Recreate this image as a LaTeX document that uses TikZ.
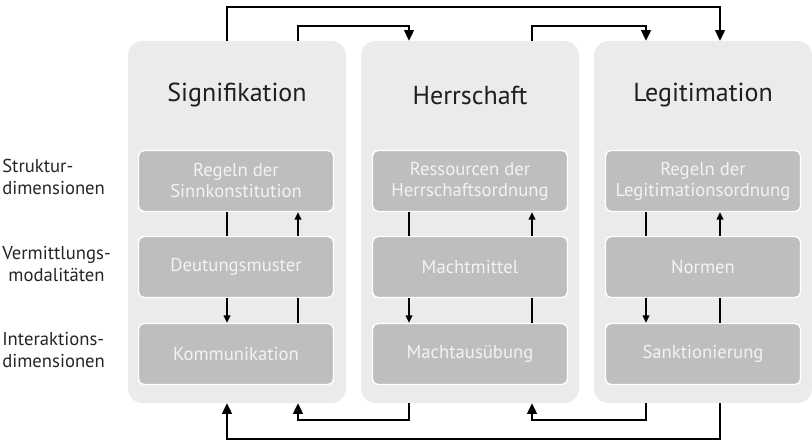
\documentclass[tikz,border=0pt]{standalone}
\usepackage{fontspec}
\setmainfont{PT Sans}
\usetikzlibrary{arrows.meta}

\definecolor{panelgray}{RGB}{235,235,235}
\definecolor{boxgray}{RGB}{190,190,190}
\definecolor{boxtext}{RGB}{243,243,243}

\tikzset{
	panel/.style={fill=panelgray, rounded corners=11pt, minimum width=163.5pt, minimum height=271.5pt, inner sep=0pt},
	levelbox/.style={fill=boxgray, draw=white, line width=1.1pt, rounded corners=4pt, minimum width=146.25pt, minimum height=45.75pt, inner sep=0pt, text=boxtext, align=center, font=\fontsize{14}{15.75}\selectfont},
	paneltitle/.style={inner sep=0pt, text=black!88, font=\fontsize{19.5}{22}\selectfont},
	dimlabel/.style={anchor=west, inner sep=0pt, align=left, text=black!85, font=\fontsize{14}{16.5}\selectfont},
	link/.style={line width=1pt},
	flow/.style={line width=1pt, -{Triangle[width=7.5pt,length=8pt]}},
	innerflow/.style={line width=1pt, -{Triangle[width=5pt,length=5.5pt]}}
}

\begin{document}
\begin{tikzpicture}[x=0.75pt,y=0.75pt,yscale=-1,xscale=1]
	\useasboundingbox (0,0) rectangle (812,442);
	
	%Shapes: Panels
	\node [panel] (sig) at (237,222) {};
	\node [panel] (her) at (470,222) {};
	\node [panel] (leg) at (703,222) {};
	
	%Text: Panel titles
	\node [paneltitle] (sigtitle) at (237,95) {Signifikation};
	\node [paneltitle] (hertitle) at (470,95) {Herrschaft};
	\node [paneltitle] (legtitle) at (703,95) {Legitimation};
	
	%Shapes: Level boxes
	\node [levelbox] (sinn) at (236,181) {Regeln der\\Sinnkonstitution};
	\node [levelbox] (deut) at (236,267) {Deutungsmuster};
	\node [levelbox] (komm) at (236,354) {Kommunikation};
	\node [levelbox] (ress) at (470,181) {Ressourcen der\\Herrschaftsordnung};
	\node [levelbox] (mitt) at (470,267) {Machtmittel};
	\node [levelbox] (ausu) at (470,354) {Machtausübung};
	\node [levelbox] (lord) at (703,181) {Regeln der\\Legitimationsordnung};
	\node [levelbox] (norm) at (703,267) {Normen};
	\node [levelbox] (sank) at (703,354) {Sanktionierung};
	
	%Text: Dimension labels
	\node [dimlabel] (struk) at (2,177) {Struktur-\\dimensionen};
	\node [dimlabel, align=center] (verm) at (2,264) {Vermittlungs-\\modalitäten};
	\node [dimlabel] (inter) at (2,350) {Interaktions-\\dimensionen};
	
	%Coordinates: lanes and rails
	\coordinate (p1a) at (227,0);
	\coordinate (p1b) at (298,0);
	\coordinate (p2a) at (409,0);
	\coordinate (p2b) at (532,0);
	\coordinate (p3a) at (646,0);
	\coordinate (p3b) at (720,0);
	\coordinate (topout) at (0,7);
	\coordinate (topin) at (0,26);
	\coordinate (botin) at (0,420);
	\coordinate (botout) at (0,439);
	
	%Straight Lines: inside Signifikation
	\draw [link] (sinn.south -| p1a) -- (deut.north -| p1a);
	\draw [innerflow] (deut.south -| p1a) -- (komm.north -| p1a);
	\draw [link] (komm.north -| p1b) -- (deut.south -| p1b);
	\draw [innerflow] (deut.north -| p1b) -- (sinn.south -| p1b);
	
	%Straight Lines: inside Herrschaft
	\draw [link] (ress.south -| p2a) -- (mitt.north -| p2a);
	\draw [innerflow] (mitt.south -| p2a) -- (ausu.north -| p2a);
	\draw [link] (ausu.north -| p2b) -- (mitt.south -| p2b);
	\draw [innerflow] (mitt.north -| p2b) -- (ress.south -| p2b);
	
	%Straight Lines: inside Legitimation
	\draw [link] (lord.south -| p3a) -- (norm.north -| p3a);
	\draw [innerflow] (norm.south -| p3a) -- (sank.north -| p3a);
	\draw [link] (sank.north -| p3b) -- (norm.south -| p3b);
	\draw [innerflow] (norm.north -| p3b) -- (lord.south -| p3b);
	
	%Connectors: top
	\draw [flow] (sig.north -| p1a) -- (p1a |- topout) -| (leg.north -| p3b);
	\draw [flow] (sig.north -| p1b) -- (p1b |- topin) -| (her.north -| p2a);
	\draw [flow] (her.north -| p2b) -- (p2b |- topin) -| (leg.north -| p3a);
	
	%Connectors: bottom
	\draw [flow] (leg.south -| p3b) -- (p3b |- botout) -| (sig.south -| p1a);
	\draw [flow] (her.south -| p2a) -- (p2a |- botin) -| (sig.south -| p1b);
	\draw [flow] (leg.south -| p3a) -- (p3a |- botin) -| (her.south -| p2b);
	
\end{tikzpicture}
\end{document}
